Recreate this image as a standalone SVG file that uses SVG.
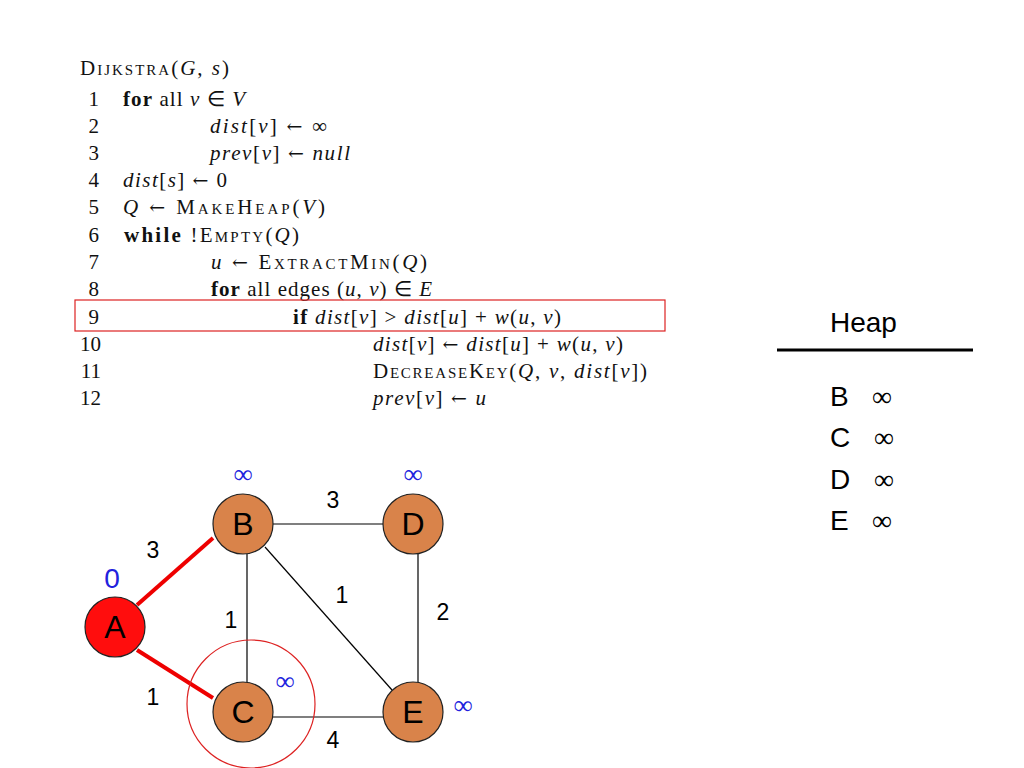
<svg xmlns="http://www.w3.org/2000/svg" width="1024" height="768" viewBox="0 0 1024 768">
<style>
.code{font-family:"Liberation Serif","Times New Roman",serif;font-size:21px;fill:#111}
.num{text-anchor:end}
.i{font-style:italic}
.b{font-weight:bold}
.sc{font-variant:small-caps}
.ar{font-family:"DejaVu Serif",serif;font-size:19px}
.node{stroke:#222;stroke-width:1.2}
.orange{fill:#D9834A}
.lbl{font-family:"Liberation Sans",Arial,sans-serif;font-size:32px;fill:#000;text-anchor:middle}
.w{font-family:"Liberation Sans",Arial,sans-serif;font-size:23px;fill:#000;text-anchor:middle}
.inf{font-family:"Liberation Serif","Times New Roman",serif;font-size:27px;fill:#2222dd;text-anchor:middle}
.edge{stroke:#000;stroke-width:1.2;fill:none}
.red{stroke:#ee0000;stroke-width:4;fill:none}
.heap{font-family:"Liberation Sans",Arial,sans-serif;font-size:28px;fill:#000}
.hinf{font-family:"Liberation Serif","Times New Roman",serif;font-size:28px;fill:#000}
</style>
<rect width="1024" height="768" fill="#fff"/>
<g id="code" class="code">
<text x="80" y="75" textLength="149" lengthAdjust="spacing"><tspan class="sc">Dijkstra</tspan>(<tspan class="i">G</tspan>, <tspan class="i">s</tspan>)</text>
<text class="num" x="99" y="106">1</text>
<text x="123" y="106" textLength="122" lengthAdjust="spacing"><tspan class="b">for</tspan> all <tspan class="i">v</tspan> ∈ <tspan class="i">V</tspan></text>
<text class="num" x="99" y="133">2</text>
<text x="210" y="133" textLength="117" lengthAdjust="spacing"><tspan class="i">dist</tspan>[<tspan class="i">v</tspan>] <tspan class="ar">←</tspan> ∞</text>
<text class="num" x="99" y="160">3</text>
<text x="210" y="160" textLength="140" lengthAdjust="spacing"><tspan class="i">prev</tspan>[<tspan class="i">v</tspan>] <tspan class="ar">←</tspan> <tspan class="i">null</tspan></text>
<text class="num" x="99" y="187">4</text>
<text x="123" y="187" textLength="104" lengthAdjust="spacing"><tspan class="i">dist</tspan>[<tspan class="i">s</tspan>] <tspan class="ar">←</tspan> 0</text>
<text class="num" x="99" y="214">5</text>
<text x="123" y="214" textLength="202" lengthAdjust="spacing"><tspan class="i">Q</tspan> <tspan class="ar">←</tspan> <tspan class="sc">MakeHeap</tspan>(<tspan class="i">V</tspan>)</text>
<text class="num" x="99" y="242">6</text>
<text x="124" y="242" textLength="175" lengthAdjust="spacing"><tspan class="b">while</tspan> !<tspan class="sc">Empty</tspan>(<tspan class="i">Q</tspan>)</text>
<text class="num" x="99" y="269">7</text>
<text x="211" y="269" textLength="216" lengthAdjust="spacing"><tspan class="i">u</tspan> <tspan class="ar">←</tspan> <tspan class="sc">ExtractMin</tspan>(<tspan class="i">Q</tspan>)</text>
<text class="num" x="99" y="296">8</text>
<text x="211" y="296" textLength="221" lengthAdjust="spacing"><tspan class="b">for</tspan> all edges (<tspan class="i">u</tspan>, <tspan class="i">v</tspan>) ∈ <tspan class="i">E</tspan></text>
<text class="num" x="99" y="324">9</text>
<text x="293" y="324" textLength="268" lengthAdjust="spacing"><tspan class="b">if</tspan> <tspan class="i">dist</tspan>[<tspan class="i">v</tspan>] &gt; <tspan class="i">dist</tspan>[<tspan class="i">u</tspan>] + <tspan class="i">w</tspan>(<tspan class="i">u</tspan>, <tspan class="i">v</tspan>)</text>
<text class="num" x="101" y="351">10</text>
<text x="373" y="351" textLength="250" lengthAdjust="spacing"><tspan class="i">dist</tspan>[<tspan class="i">v</tspan>] <tspan class="ar">←</tspan> <tspan class="i">dist</tspan>[<tspan class="i">u</tspan>] + <tspan class="i">w</tspan>(<tspan class="i">u</tspan>, <tspan class="i">v</tspan>)</text>
<text class="num" x="101" y="378">11</text>
<text x="373" y="378" textLength="274" lengthAdjust="spacing"><tspan class="sc">DecreaseKey</tspan>(<tspan class="i">Q</tspan>, <tspan class="i">v</tspan>, <tspan class="i">dist</tspan>[<tspan class="i">v</tspan>])</text>
<text class="num" x="101" y="405">12</text>
<text x="373" y="405" textLength="113" lengthAdjust="spacing"><tspan class="i">prev</tspan>[<tspan class="i">v</tspan>] <tspan class="ar">←</tspan> <tspan class="i">u</tspan></text>
</g>
<rect id="highlight" x="75" y="300" width="590" height="31" fill="none" stroke="#dd2222" stroke-width="1.2"/>
<g id="heap">
<text class="heap" x="830" y="332">Heap</text>
<line x1="777" y1="350" x2="973" y2="350" stroke="#000" stroke-width="3"/>
<text class="heap" x="830" y="406">B</text><text class="hinf" x="872" y="406">∞</text>
<text class="heap" x="830" y="447">C</text><text class="hinf" x="874" y="447">∞</text>
<text class="heap" x="830" y="489">D</text><text class="hinf" x="874" y="489">∞</text>
<text class="heap" x="830" y="530">E</text><text class="hinf" x="872" y="530">∞</text>
</g>
<g id="connectors">
<line class="edge" x1="273" y1="524" x2="383" y2="524"/>
<line class="edge" x1="247" y1="554" x2="247" y2="682"/>
<line class="edge" x1="265" y1="547" x2="392" y2="690"/>
<line class="edge" x1="418" y1="554" x2="418" y2="682"/>
<line class="edge" x1="273" y1="717" x2="383" y2="717"/>
<line class="red" x1="137" y1="605" x2="213" y2="538"/>
<line class="red" x1="137" y1="650" x2="213" y2="698"/>
</g>
<circle id="focus" cx="251" cy="704" r="64" fill="none" stroke="#dd2222" stroke-width="1.2"/>
<g id="node-A"><circle class="node" cx="115" cy="627" r="30" fill="#ff0d0d"/><text class="lbl" x="115" y="638">A</text></g>
<g id="node-B"><circle class="node orange" cx="243" cy="524" r="30"/><text class="lbl" x="243" y="535">B</text></g>
<g id="node-D"><circle class="node orange" cx="413" cy="524" r="30"/><text class="lbl" x="413" y="535">D</text></g>
<g id="node-C"><circle class="node orange" cx="243" cy="712" r="30"/><text class="lbl" x="243" y="723">C</text></g>
<g id="node-E"><circle class="node orange" cx="413" cy="712" r="30"/><text class="lbl" x="413" y="723">E</text></g>
<g id="labels">
<text class="w" x="333" y="508">3</text>
<text class="w" x="153" y="558">3</text>
<text class="w" x="342" y="603">1</text>
<text class="w" x="443" y="620">2</text>
<text class="w" x="231" y="628">1</text>
<text class="w" x="153" y="705">1</text>
<text class="w" x="333" y="748">4</text>
<text x="112" y="588" font-family="Liberation Sans,Arial,sans-serif" font-size="28" fill="#2222dd" text-anchor="middle">0</text>
<text class="inf" x="243" y="483">∞</text>
<text class="inf" x="413" y="483">∞</text>
<text class="inf" x="285" y="690">∞</text>
<text class="inf" x="463" y="714">∞</text>
</g>
</svg>
